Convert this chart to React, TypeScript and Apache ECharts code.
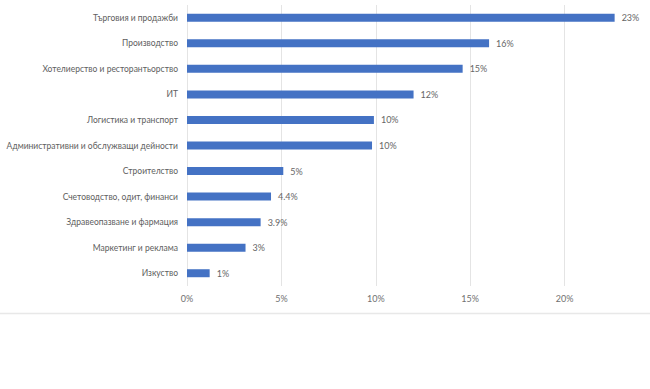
import React, { useEffect, useRef } from "react";
import * as echarts from "echarts";

const categories = [
  "Търговия и продажби",
  "Производство",
  "Хотелиерство и ресторантьорство",
  "ИТ",
  "Логистика и транспорт",
  "Административни и обслужващи дейности",
  "Строителство",
  "Счетоводство, одит, финанси",
  "Здравеопазване и фармация",
  "Маркетинг и реклама",
  "Изкуство",
];
const values = [22.65, 16.0, 14.6, 12.0, 9.9, 9.8, 5.1, 4.45, 3.9, 3.1, 1.2];
const valueLabels = ["23%", "16%", "15%", "12%", "10%", "10%", "5%", "4.4%", "3.9%", "3%", "1%"];
const tickLabels = ["0%", "5%", "10%", "15%", "20%", "25%"];

export default function App() {
  const ref = useRef<HTMLDivElement>(null);
  useEffect(() => {
    if (!ref.current) return;
    const chart = echarts.init(ref.current, null, { renderer: "svg" });
    const font = "Lato, 'Open Sans', sans-serif";
    chart.setOption({
      animation: false,
      backgroundColor: "#ffffff",
      grid: {
        left: 187,
        right: -9,
        top: 5,
        bottom: 103,
        containLabel: false,
        outerBoundsMode: "none",
      },
      xAxis: {
        type: "value",
        min: 0,
        max: 25,
        interval: 5,
        axisLine: { show: false },
        axisTick: { show: false },
        splitLine: { show: true, lineStyle: { color: "#e4e4e4", width: 1 } },
        axisLabel: {
          margin: 8,
          color: "#707070",
          fontSize: 9,
          fontFamily: font,
          showMaxLabel: false,
          formatter: (v: number) => tickLabels[Math.round(v / 5)] ?? "",
        },
      },
      yAxis: {
        type: "category",
        inverse: true,
        data: categories,
        axisLine: { show: false },
        axisTick: { show: false },
        splitLine: { show: false },
        axisLabel: { margin: 9, color: "#606060", fontSize: 8.5, fontFamily: font },
      },
      series: [
        {
          type: "bar",
          data: values,
          barWidth: 8,
          itemStyle: { color: "#4472C4" },
          label: {
            show: true,
            position: "right",
            distance: 7,
            color: "#666666",
            fontSize: 9,
            fontFamily: font,
            formatter: (p: any) => valueLabels[p.dataIndex],
          },
        },
      ],
      graphic: [
        {
          type: "line",
          shape: { x1: 0, y1: 313.5, x2: 650, y2: 313.5 },
          style: { stroke: "#e8e8e8", lineWidth: 1.5 },
        },
      ],
    });
    return () => chart.dispose();
  }, []);
  return (
    <div
      ref={ref}
      style={{ position: "fixed", left: 0, top: 0, width: 650, height: 389 }}
    />
  );
}
